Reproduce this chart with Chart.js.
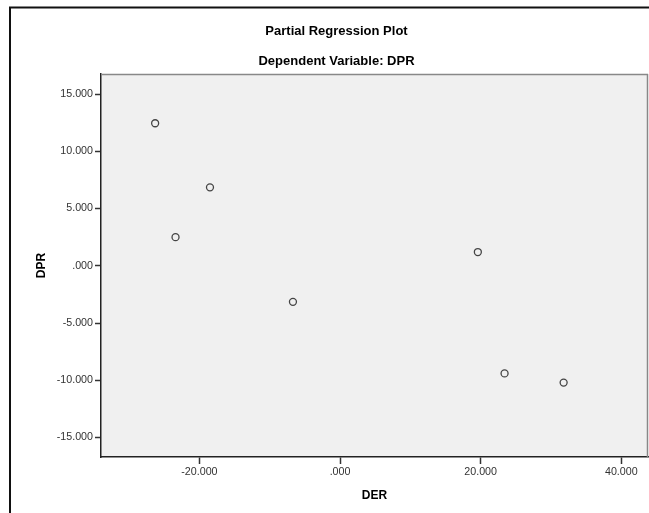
<!DOCTYPE html>
<html>
<head>
<meta charset="utf-8">
<script src="https://cdn.jsdelivr.net/npm/chart.js@4"></script>
<style>
  html, body { margin: 0; padding: 0; background: #fff; }
  #wrap { width: 649px; height: 513px; }
</style>
</head>
<body>
<div id="wrap"><canvas id="chart" width="649" height="513"></canvas></div>
<script>
// partial regression residuals
const derValues = [-26.3, -18.5, -23.4, -6.7, 19.6, 23.4, 31.8];
const dprValues = [12.45, 6.85, 2.5, -3.15, 1.2, -9.4, -10.2];

const xTicks = [-20, 0, 20, 40];
const yTicks = [-15, -10, -5, 0, 5, 10, 15];

const points = derValues.map((x, i) => ({ x: x, y: dprValues[i] }));

// SPSS style: 3 decimals, no leading zero before the point
function spssLabel(v) {
  let s = Number(v).toFixed(3);
  if (s === "0.000" || s === "-0.000") s = ".000";
  return s;
}

// grey plot background, frame around the chart, top/right borders
const framePlugin = {
  id: "frame",
  beforeDraw(chart) {
    const { ctx, chartArea: a } = chart;
    ctx.save();
    ctx.fillStyle = "#f0f0f0";
    ctx.fillRect(a.left, a.top, a.right - a.left, a.bottom - a.top);
    ctx.restore();
  },
  afterDraw(chart) {
    const { ctx, chartArea: a } = chart;
    ctx.save();
    ctx.strokeStyle = "#888";
    ctx.lineWidth = 1.5;
    ctx.beginPath();
    ctx.moveTo(a.left, a.top + 0.5);
    ctx.lineTo(a.right, a.top + 0.5);
    ctx.moveTo(a.right - 0.5, a.top);
    ctx.lineTo(a.right - 0.5, a.bottom);
    ctx.stroke();

    ctx.strokeStyle = "#111";
    ctx.lineWidth = 2;
    ctx.beginPath();
    ctx.moveTo(10, 513);
    ctx.lineTo(10, 7.5);
    ctx.lineTo(649, 7.5);
    ctx.stroke();
    ctx.restore();
  },
};

const tickFont = { family: "Liberation Sans, Arial", size: 10.7 };

new Chart(document.getElementById("chart"), {
  type: "scatter",
  data: {
    datasets: [{
      label: "DPR",
      data: points,
      pointStyle: "circle",
      pointRadius: 3.5,
      pointHoverRadius: 3.5,
      pointBorderWidth: 1.3,
      pointBorderColor: "#444",
      pointBackgroundColor: "rgba(0,0,0,0)",
    }],
  },
  options: {
    responsive: false,
    animation: false,
    layout: { autoPadding: false, padding: { left: 25, right: 1, top: 20, bottom: 0 } },
    plugins: {
      legend: { display: false },
      tooltip: { enabled: false },
      title: {
        display: true,
        text: "Partial Regression Plot",
        color: "#000",
        font: { family: "Liberation Sans, Arial", size: 13, weight: "bold" },
        padding: { top: 4, bottom: 0 },
      },
      subtitle: {
        display: true,
        text: "Dependent Variable: DPR",
        color: "#000",
        font: { family: "Liberation Sans, Arial", size: 13, weight: "bold" },
        padding: { top: 13.6, bottom: 5.2 },
      },
    },
    scales: {
      x: {
        type: "linear",
        min: -34,
        max: 43.8,
        afterBuildTicks: (s) => { s.ticks = xTicks.map((v) => ({ value: v })); },
        afterFit: (s) => { s.height = 56; s.paddingLeft = 0; s.paddingRight = 0; },
        ticks: {
          callback: spssLabel,
          color: "#333",
          padding: 2,
          font: tickFont,
          maxRotation: 0,
        },
        grid: { drawOnChartArea: false, drawTicks: true, tickLength: 7, tickColor: "#333", tickWidth: 1.5 },
        border: { display: true, color: "#222", width: 1.5 },
        title: {
          display: true,
          text: "DER",
          color: "#000",
          font: { family: "Liberation Sans, Arial", size: 12, weight: "bold" },
          padding: { top: 8, bottom: 10 },
        },
      },
      y: {
        type: "linear",
        min: -16.7,
        max: 16.75,
        afterBuildTicks: (s) => { s.ticks = yTicks.map((v) => ({ value: v })); },
        afterFit: (s) => { s.width = 76; },
        ticks: {
          callback: spssLabel,
          color: "#333",
          padding: 2,
          font: tickFont,
        },
        grid: { drawOnChartArea: false, drawTicks: true, tickLength: 6, tickColor: "#333", tickWidth: 1.5 },
        border: { display: true, color: "#222", width: 1.5 },
        title: {
          display: true,
          text: "DPR",
          color: "#000",
          font: { family: "Liberation Sans, Arial", size: 12, weight: "bold" },
          padding: { top: 9, bottom: 4 },
        },
      },
    },
  },
  plugins: [framePlugin],
});
</script>
</body>
</html>
